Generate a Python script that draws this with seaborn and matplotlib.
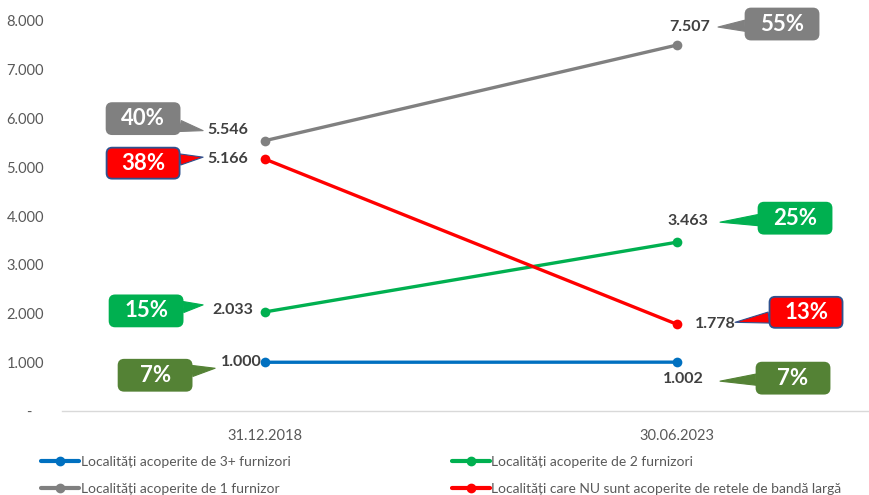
import matplotlib
matplotlib.use('Agg')
import matplotlib.pyplot as plt
import seaborn as sns
import pandas as pd
from matplotlib.transforms import offset_copy
from matplotlib.lines import Line2D
from matplotlib.patches import BoxStyle

# ---------------- data ----------------
dates = ['31.12.2018', '30.06.2023']
series_names = [
    'Localități acoperite de 3+ furnizori',
    'Localități acoperite de 1 furnizor',
    'Localități acoperite de 2 furnizori',
    'Localități care NU sunt acoperite de retele de bandă largă',
]
vals_3plus = [1000, 1002]
vals_1 = [5546, 7507]
vals_2 = [2033, 3463]
vals_none = [5166, 1778]
pct_3plus = ['7%', '7%']
pct_1 = ['40%', '55%']
pct_2 = ['15%', '25%']
pct_none = ['38%', '13%']
y_ticks = [0, 1000, 2000, 3000, 4000, 5000, 6000, 7000, 8000]

# ---------------- style ----------------
line_colors = ['#0070C0', '#808080', '#00B050', '#FF0000']
box_colors = ['#548235', '#808080', '#00B050', '#FF0000']
box_edges = ['#548235', '#808080', '#00B050', '#2F528F']
# pixel offsets (dx, dy up) relative to data points
label_off = [[(-3, 0, 'right'), (6, -17, 'center')],
             [(-17, 11, 'right'), (13, 18, 'center')],
             [(-12, 2, 'right'), (11, 21, 'center')],
             [(-17, 0, 'right'), (18, 0, 'left')]]
tip_off = [[(-50, -6), (43, -19)],
           [(-62, 10), (41, 18)],
           [(-62, 7), (43, 20)],
           [(-62, 2), (58, 2)]]
box_off = [[(-110, -13), (116, -16)],
           [(-122, 22), (105, 21)],
           [(-119, 1), (118, 24)],
           [(-122, -4), (129, 12)]]
BOX_W, BOX_H = 73, 31


class FixedRound(BoxStyle.Round):
    """Rounded box of a fixed pixel size, centred on the text."""
    def __init__(self, w, h, pad=0.1, rounding_size=0.25):
        super().__init__(pad=pad, rounding_size=rounding_size)
        self.w = w
        self.h = h

    def __call__(self, x0, y0, width, height, mutation_size):
        cx = x0 + width / 2
        cy = y0 + height / 2
        p = self.pad * mutation_size
        return super().__call__(cx - self.w / 2 + p, cy - self.h / 2 + p,
                                self.w - 2 * p, self.h - 2 * p, mutation_size)


sns.set_theme(style='white')
plt.rcParams['font.family'] = ['Lato', 'DejaVu Sans']

all_vals = [vals_3plus, vals_1, vals_2, vals_none]
all_pcts = [pct_3plus, pct_1, pct_2, pct_none]

df = pd.DataFrame({
    'date': dates * 4,
    'pos': [0, 1] * 4,
    'value': vals_3plus + vals_1 + vals_2 + vals_none,
    'series': [s for s in series_names for _ in dates],
})

W, H = 869, 495
fig = plt.figure(figsize=(W / 100, H / 100), dpi=100)
ax = fig.add_axes([62 / W, 1 - 411 / H, (W - 62) / W, 390 / H])

sns.lineplot(data=df, x='pos', y='value', hue='series', hue_order=series_names,
             palette=line_colors, marker='o', markersize=7, markeredgewidth=0,
             linewidth=2.4, legend=False, ax=ax)

ax.set_xlim(-0.493, 1.466)
ax.set_ylim(0, 8000)
ax.set_xticks([0, 1])
ax.set_xticklabels(dates)
ax.set_yticks(y_ticks)
ax.set_yticklabels([('{:,}'.format(v).replace(',', '.') if v else '-   ') for v in y_ticks])
ax.tick_params(axis='both', length=0, colors='#595959', labelsize=10.5)
ax.tick_params(axis='y', pad=13)
ax.tick_params(axis='x', pad=13)
ax.set_xlabel('')
ax.set_ylabel('')
for s in ['top', 'right', 'left']:
    ax.spines[s].set_visible(False)
ax.spines['bottom'].set_color('#D9D9D9')
ax.spines['bottom'].set_linewidth(1)

for si in range(4):
    for di in range(2):
        v = all_vals[si][di]
        lx, ly, ha = label_off[si][di]
        ax.annotate('{:,}'.format(v).replace(',', '.'), xy=(di, v), xycoords='data',
                    xytext=(lx, ly), textcoords='offset pixels', ha=ha, va='center',
                    fontsize=11.5, fontweight='bold', color='#404040')
        tx, ty = tip_off[si][di]
        bx, by = box_off[si][di]
        tr = offset_copy(ax.transData, fig=fig, x=tx, y=ty, units='dots')
        ax.annotate(all_pcts[si][di], xy=(di, v), xycoords=tr,
                    xytext=(bx - tx, by - ty), textcoords='offset pixels',
                    ha='center', va='center', color='white', fontsize=16,
                    fontweight='bold',
                    bbox=dict(boxstyle=FixedRound(BOX_W, BOX_H),
                              fc=box_colors[si], ec=box_edges[si], lw=1.3),
                    arrowprops=dict(arrowstyle='wedge,tail_width=0.5,shrink_factor=0.5',
                                    fc=box_colors[si], ec=box_edges[si], lw=0.8,
                                    shrinkA=0, shrinkB=0))

handles = [Line2D([0], [0], color=c, lw=3, marker='o', markersize=6) for c in line_colors]
fig.legend(handles, series_names, loc='upper left', bbox_to_anchor=(41 / W, 1 - 456 / H),
           ncol=2, frameon=False, handlelength=2.75, handletextpad=0.1,
           columnspacing=11.6, labelspacing=1.05, fontsize=10,
           labelcolor='#595959', borderpad=0, borderaxespad=0)

fig.savefig('out.png', dpi=100)
